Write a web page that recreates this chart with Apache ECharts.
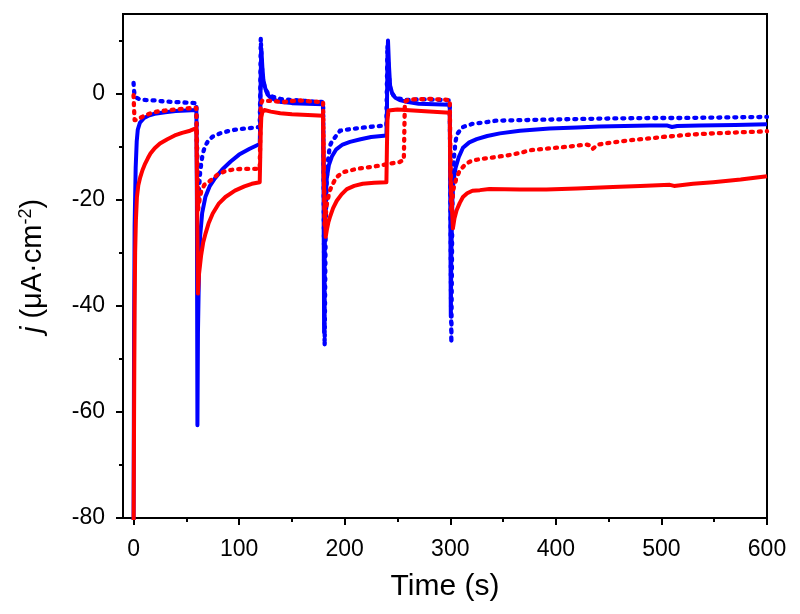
<!DOCTYPE html>
<html>
<head>
<meta charset="utf-8">
<script src="https://cdn.jsdelivr.net/npm/echarts@6/dist/echarts.min.js"></script>
<style>
  html, body { margin: 0; padding: 0; background: #fff; }
  #chart { width: 800px; height: 614px; }
</style>
</head>
<body>
<div id="chart"></div>
<script>
// tick positions
const xTicks = [0, 100, 200, 300, 400, 500, 600]
const xMinorTicks = [50, 150, 250, 350, 450, 550]
const yTicks = [-80, -60, -40, -20, 0]
const yMinorTicks = [-70, -50, -30, -10, 10]

// [time (s), j (uA/cm2)]
const blueSolid = [
  [0, -82], [0.5, -45], [1, -25], [2, -14], [3, -9], [4, -6.8], [6, -5.5], [10, -4.6], [15, -4.1], [20, -3.8],
  [30, -3.5], [40, -3.3], [50, -3.2], [59.5, -3.1],
  [60, -20], [60.5, -62.5], [61, -45], [62, -33], [63, -27], [65, -22.5], [68, -19.5], [72, -17.5], [77, -16],
  [84, -14.3], [92, -12.8], [100, -11.5], [110, -10.4], [119.5, -9.5],
  [120, -5], [120.5, 4], [121, 8.5], [122, 5], [123, 2.5], [125, 0.8], [127, -0.2], [130, -0.8], [135, -1.3],
  [140, -1.6], [150, -1.8], [165, -1.9], [179.5, -2.0],
  [180, -20], [180.5, -45], [181, -30], [182, -20], [183, -16], [185, -13.5], [188, -11.8], [192, -10.5],
  [198, -9.6], [205, -9.1], [215, -8.6], [225, -8.2], [239.5, -7.9],
  [240, -3], [240.5, 6], [241, 10], [242, 5], [243, 1.5], [245, 0], [248, -0.8], [252, -1.2], [260, -1.6],
  [270, -1.9], [285, -2.0], [299.5, -2.1],
  [300, -20], [300.5, -42], [301, -30], [302, -20], [303, -16.5], [305, -14], [308, -12], [312, -10.2],
  [318, -9.2], [325, -8.6], [335, -8.0], [347, -7.5], [366, -7.0], [394, -6.6], [420, -6.4], [441, -6.2],
  [465, -6.1], [489, -6.0], [505, -6.0], [510, -6.3], [515, -6.1], [536, -6.0], [570, -5.9], [600, -5.8]
]

const blueDotted = [
  [0, 2], [0.5, 0.5], [1, -0.3], [2, -0.7], [5, -1.0], [10, -1.2], [20, -1.3], [30, -1.5], [40, -1.6],
  [50, -1.7], [59.5, -1.8],
  [60, -8], [61, -21], [62, -18], [63, -15], [64.5, -12.5], [66, -11], [68, -9.8], [71, -8.8], [75, -8.1],
  [82, -7.5], [91, -7.0], [100, -6.7], [110, -6.5], [119.5, -6.3],
  [120, 0], [120.5, 10.4], [121.5, 5], [123, 2], [125, 0.8], [127.5, 0], [132, -0.6], [139, -1.0], [150, -1.2],
  [158, -1.3], [170, -1.5], [179.5, -1.6],
  [180, -15], [181, -47.5], [182, -25], [183, -16], [184.5, -12], [186, -9.8], [188.5, -8.8], [191, -8.2],
  [195.5, -7.0], [205, -6.7], [214, -6.5], [227, -6.2], [239.5, -6.0],
  [240, 2], [240.5, 9], [241.5, 4], [243, 1], [246, -0.3], [250, -0.9], [258, -1.2], [270, -1.1], [280, -1.1],
  [290, -1.2], [299.5, -1.3],
  [300, -15], [301, -47], [302, -20], [303.5, -12], [305, -9], [306.5, -7.6], [312, -6.3], [321, -5.7],
  [333, -5.4], [344, -5.1], [370, -5.0], [394, -4.9], [420, -4.8], [450, -4.7], [489, -4.6], [520, -4.6],
  [560, -4.5], [600, -4.4]
]

const redSolid = [
  [0, -85], [0.5, -60], [1, -40], [1.5, -30], [2.2, -24], [3.2, -19.5], [4.5, -17.3], [6.3, -15.8],
  [8.5, -14.4], [11, -13.2], [13.5, -12.2], [16, -11.3], [20, -10.3], [25, -9.4], [32, -8.6], [39, -7.9],
  [46, -7.4], [53.5, -7.0], [59.5, -6.5],
  [60, -15], [61, -37.7], [62, -34], [64, -30.5], [66, -28], [68, -26.5], [71, -24.5], [75, -22.6],
  [80.5, -20.8], [87, -19.5], [96, -18.3], [105, -17.5], [112, -17.0], [119.5, -16.7],
  [120, -12], [120.5, -7], [121, -4.5], [122, -3.5], [124, -3.1], [130, -3.4], [139, -3.7], [150, -3.9],
  [160, -4.0], [170, -4.1], [179.5, -4.2],
  [180, -15], [182, -27], [183, -25.8], [184.5, -24.3], [186, -23.3], [189, -21.6], [192.5, -20.2],
  [197, -19], [202, -18], [209, -17.4], [217, -17], [228, -16.8], [239.5, -16.7],
  [240, -10], [240.5, -5], [241.5, -3.2], [243, -2.9], [250, -3.0], [265, -3.2], [280, -3.4], [299.5, -3.6],
  [300, -15], [302.5, -25.4], [304, -23.5], [306, -22], [309, -20.6], [312, -19.5], [316, -18.8],
  [321, -18.3], [328, -18.2], [337, -18], [366, -18.1], [391, -18.1], [420, -17.9], [454, -17.6],
  [480, -17.4], [508, -17.2], [512, -17.4], [530, -17.0], [549, -16.7], [575, -16.2], [600, -15.6]
]

const redDotted = [
  [0, -0.3], [0.5, -3], [1, -5], [3, -5], [5, -4.7], [10, -4.2], [15, -3.8], [22, -3.4], [30, -3.2],
  [40, -3.0], [50, -2.8], [59.5, -2.7],
  [60, -10], [61, -22], [62.5, -20], [64, -18.5], [67, -17.2], [70, -16.8], [74, -16.2], [80, -15.2],
  [87, -14.6], [95, -14.3], [102, -14.2], [110, -14.2], [119.5, -14.2],
  [120, -8], [120.5, -2], [122, -1.3], [130, -1.4], [142, -1.6], [150, -1.4], [158, -1.3], [170, -1.5],
  [179.5, -1.6],
  [180, -10], [181, -25], [183, -21], [185.5, -18.5], [188, -17.3], [192, -15.8], [198.5, -14.8],
  [205, -14.5], [211, -14.2], [222, -13.9], [233, -13.6], [240, -13.3], [246, -13.1], [252, -12.9],
  [256, -12.5],
  [257, -1.5], [260, -1.2], [265, -1.1], [280, -1.0], [290, -1.1], [299.5, -1.2],
  [300, -10], [301, -22], [303, -18], [306, -15.8], [309, -14.5], [315, -13.2], [321, -12.6], [330, -12.3],
  [337.5, -12.1], [353, -11.7], [366, -11.2], [375, -10.7], [390, -10.4], [407, -10.1], [420, -9.8],
  [429, -9.6], [433, -9.8], [435, -10.4], [440, -9.6], [454, -9.2], [470, -8.8], [486, -8.5], [500, -8.2],
  [517, -7.9], [530, -7.7], [549, -7.5], [575, -7.3], [600, -7.1]
]

const chart = echarts.init(document.getElementById('chart'))

const font = 'Liberation Sans'
const solid = (data, color) => ({
  type: 'line',
  data: data,
  showSymbol: false,
  symbol: 'none',
  animation: false,
  lineStyle: { color: color, width: 4, join: 'round' }
})
const dotted = (data, color) => ({
  type: 'line',
  data: data,
  showSymbol: false,
  symbol: 'none',
  animation: false,
  lineStyle: { color: color, width: 4.3, type: [2, 6], cap: 'round', join: 'round' }
})

const options = {
  backgroundColor: '#fff',
  grid: {
    left: 123,
    right: 33,
    top: 14,
    bottom: 96,
    show: true,
    borderColor: '#000',
    borderWidth: 2,
    containLabel: false,
    outerBoundsMode: 'none'
  },
  xAxis: [
    {
      type: 'value',
      min: -10,
      max: 600,
      position: 'bottom',
      axisLine: { show: true, onZero: false, lineStyle: { color: '#000', width: 2 } },
      axisTick: { show: true, customValues: xTicks, length: 7, lineStyle: { color: '#000', width: 2 } },
      axisLabel: { customValues: xTicks, fontSize: 23, color: '#000', fontFamily: font, margin: 20 },
      splitLine: { show: false },
      name: 'Time (s)',
      nameLocation: 'middle',
      nameGap: 54,
      nameTextStyle: { fontSize: 30, color: '#000', fontFamily: font }
    },
    {
      type: 'value',
      min: -10,
      max: 600,
      position: 'bottom',
      axisLine: { show: false, onZero: false },
      axisTick: { show: true, customValues: xMinorTicks, length: 4, lineStyle: { color: '#000', width: 2 } },
      axisLabel: { show: false },
      splitLine: { show: false }
    }
  ],
  yAxis: [
    {
      type: 'value',
      min: -80,
      max: 15,
      position: 'left',
      axisLine: { show: true, onZero: false, lineStyle: { color: '#000', width: 2 } },
      axisTick: { show: true, customValues: yTicks, length: 7, lineStyle: { color: '#000', width: 2 } },
      axisLabel: { customValues: yTicks, fontSize: 23, color: '#000', fontFamily: font, margin: 18 },
      splitLine: { show: false },
      name: '{i|j}{n| (μA·cm}{s|-2}{n|)}',
      nameLocation: 'middle',
      nameGap: 76,
      nameTextStyle: {
        color: '#000',
        fontFamily: font,
        rich: {
          i: { fontSize: 29, fontStyle: 'italic', fontFamily: font, color: '#000', lineHeight: 30, verticalAlign: 'bottom' },
          n: { fontSize: 29, fontFamily: font, color: '#000', lineHeight: 30, verticalAlign: 'bottom' },
          s: { fontSize: 18, fontFamily: font, color: '#000', lineHeight: 2, verticalAlign: 'top' }
        }
      }
    },
    {
      type: 'value',
      min: -80,
      max: 15,
      position: 'left',
      axisLine: { show: false, onZero: false },
      axisTick: { show: true, customValues: yMinorTicks, length: 4, lineStyle: { color: '#000', width: 2 } },
      axisLabel: { show: false },
      splitLine: { show: false }
    }
  ],
  series: [
    dotted(blueDotted, '#0000ff'),
    solid(blueSolid, '#0000ff'),
    dotted(redDotted, '#ff0000'),
    solid(redSolid, '#ff0000')
  ]
}

chart.setOption(options)
</script>
</body>
</html>
